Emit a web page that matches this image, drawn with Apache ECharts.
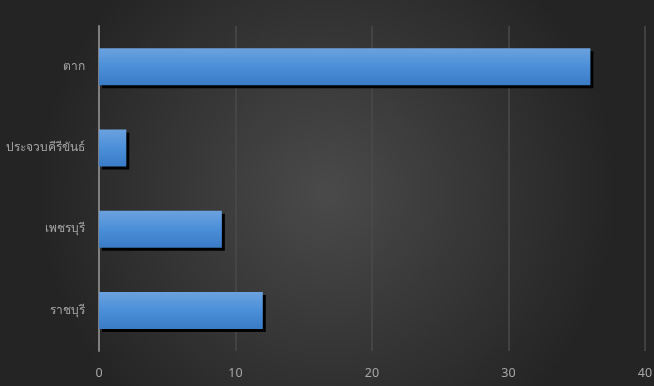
<!DOCTYPE html>
<html><head><meta charset="utf-8">
<script src="https://cdn.jsdelivr.net/npm/echarts@6/dist/echarts.min.js"></script>
<style>html,body{margin:0;padding:0;background:#2b2b2b;}#c{width:654px;height:386px;}</style>
</head><body><div id="c"></div>
<script>
const categories = ['ราชบุรี', 'เพชรบุรี', 'ประจวบคีรีขันธ์', 'ตาก'];
const values = [12, 9, 2, 36];
const xTicks = [0, 10, 20, 30, 40];

const chart = echarts.init(document.getElementById('c'));
chart.setOption({
  backgroundColor: {
    type: 'radial', x: 0.5, y: 0.5, r: 0.75,
    colorStops: [{offset: 0, color: '#4a4a4a'}, {offset: 1, color: '#242424'}]
  },
  animation: false,
  grid: {left: 99, right: 9, top: 26, bottom: 35, containLabel: false, outerBoundsMode: 'none'},
  xAxis: {
    type: 'value', min: xTicks[0], max: xTicks[xTicks.length - 1], interval: 10,
    axisLine: {show: false}, axisTick: {show: false},
    splitLine: {show: true, lineStyle: {color: '#4a4a4a', width: 1.5}},
    axisLabel: {color: '#a6a6a6', fontSize: 12.5, margin: 16, fontFamily: 'Noto Sans, DejaVu Sans, sans-serif'}
  },
  yAxis: {
    type: 'category', data: categories,
    axisLine: {show: true, lineStyle: {color: '#7f7f7f', width: 2}},
    axisTick: {show: false},
    axisLabel: {color: '#a6a6a6', fontSize: 12, margin: 14}
  },
  series: [{
    type: 'bar', data: values, barWidth: 37,
    itemStyle: {
      color: {type: 'linear', x: 0, y: 0, x2: 0, y2: 1,
        colorStops: [{offset: 0, color: '#6ca2de'}, {offset: 0.5, color: '#4b8fd9'}, {offset: 1, color: '#3a7bc6'}]},
      shadowColor: '#000000', shadowBlur: 0, shadowOffsetX: 3, shadowOffsetY: 3
    }
  }]
});
</script></body></html>
